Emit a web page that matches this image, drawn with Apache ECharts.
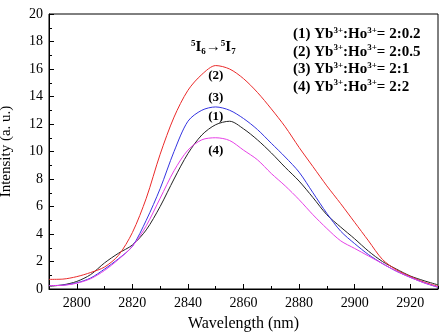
<!DOCTYPE html>
<html>
<head>
<meta charset="utf-8">
<script src="https://cdn.jsdelivr.net/npm/echarts@6/dist/echarts.min.js"></script>
<style>html,body{margin:0;padding:0;background:#fff}#c{width:445px;height:336px}</style>
</head>
<body>
<div id="c"></div>
<script>
// Emission spectra, 5I6 -> 5I7 band
const wavelengths = [2790,2795,2800,2805,2810,2815,2820,2825,2830,2835,2840,2845,2850,2855,2860,2865,2870,2875,2880,2885,2890,2895,2900,2905,2910,2915,2920,2925,2930];
const s1 = [0.2,0.3,0.55,1.05,1.9,2.6,3.2,4.3,6.0,8.0,9.85,11.2,11.95,12.2,11.65,10.85,9.9,8.85,7.85,6.65,5.4,4.5,3.65,2.75,2.0,1.45,0.95,0.6,0.3];
const s2 = [0.7,0.72,0.9,1.2,1.6,2.45,4.1,6.6,9.8,12.5,14.45,15.6,16.25,16.0,15.3,14.3,13.1,11.8,10.3,8.9,7.5,6.2,4.85,3.5,2.15,1.4,0.92,0.5,0.2];
const s3 = [0.25,0.28,0.45,0.8,1.45,2.2,3.1,5.0,7.3,10.0,12.2,13.0,13.24,13.0,12.4,11.6,10.6,9.6,8.5,7.0,5.5,4.2,3.3,2.5,1.85,1.3,0.85,0.45,0.12];
const s4 = [0.25,0.27,0.42,0.75,1.35,2.15,3.1,4.6,6.6,8.6,10.1,10.85,11.0,10.8,10.1,9.4,8.4,7.5,6.5,5.4,4.4,3.5,2.95,2.4,1.85,1.3,0.85,0.45,0.15];
const xMajor = [2800,2820,2840,2860,2880,2900,2920];
const xMinor = [2790,2810,2830,2850,2870,2890,2910,2930];
const ratios = ['2:0.2','2:0.5','2:1','2:2'];
const tags = ['(1)','(2)','(3)','(4)'];

const serif = 'Liberation Serif';
const chart = echarts.init(document.getElementById('c'));

function pairs(ys){ return wavelengths.map((w,i)=>[w, ys[i]]); }
function line(ys, color){
  return {type:'line', data:pairs(ys), smooth:0.3, showSymbol:false, symbol:'none',
          lineStyle:{color:color, width:1}, itemStyle:{color:color}, z:3};
}

const legendLines = ratios.map((r,i)=>({
  type:'text', left:293, top:26+i*17.5,
  style:{
    text:'{b|'+tags[i]+' Yb}{s|3+}{b|:Ho}{s|3+}{b|= '+r+'}',
    rich:{
      b:{fontFamily:serif, fontWeight:'bold', fontSize:15, fill:'#000'},
      s:{fontFamily:serif, fontWeight:'bold', fontSize:9, fill:'#000', verticalAlign:'top', padding:[0,0,8,0]}
    }
  }
}));

const fmt = v => String(v);

chart.setOption({
  animation:false,
  grid:{left:49, right:7, top:14, bottom:47, show:true, borderColor:'#000', borderWidth:1, outerBoundsMode:'none', containLabel:false},
  xAxis:[{
    type:'value', min:2790, max:2930,
    name:'Wavelength (nm)', nameLocation:'middle', nameGap:27,
    nameTextStyle:{fontFamily:serif, fontSize:16, color:'#000'},
    axisLine:{lineStyle:{color:'#000', width:1}},
    axisTick:{inside:true, length:5, customValues:xMajor, lineStyle:{color:'#000'}},
    axisLabel:{customValues:xMajor, formatter:fmt, fontFamily:serif, fontSize:14, color:'#000', margin:7},
    splitLine:{show:false}
  },{
    type:'value', min:2790, max:2930, position:'bottom',
    axisLine:{show:false},
    axisTick:{inside:true, length:3, customValues:xMinor, lineStyle:{color:'#000'}},
    axisLabel:{show:false}, splitLine:{show:false}
  }],
  yAxis:{
    type:'value', min:0, max:20, interval:2,
    name:'Intensity (a. u.)', nameLocation:'middle', nameGap:35,
    nameTextStyle:{fontFamily:serif, fontSize:15, color:'#000'},
    axisLine:{show:true, lineStyle:{color:'#000', width:1}},
    axisTick:{inside:true, length:5, lineStyle:{color:'#000'}},
    minorTick:{show:true, splitNumber:2, length:3, lineStyle:{color:'#000'}},
    axisLabel:{formatter:fmt, fontFamily:serif, fontSize:14, color:'#000', margin:6},
    splitLine:{show:false}
  },
  series:[
    line(s1, '#222222'),
    line(s2, '#ea2a2a'),
    line(s3, '#3434e0'),
    line(s4, '#e640e6')
  ],
  graphic:[{
    type:'text', left:191, top:39,
    style:{
      text:'{s|5}{b|I}{u|6}{a|→}{s|5}{b|I}{u|7}',
      rich:{
        b:{fontFamily:serif, fontWeight:'bold', fontSize:15, fill:'#000'},
        a:{fontFamily:serif, fontSize:15, fill:'#000'},
        s:{fontFamily:serif, fontWeight:'bold', fontSize:9, fill:'#000', verticalAlign:'top', padding:[0,0,8,0]},
        u:{fontFamily:serif, fontWeight:'bold', fontSize:9, fill:'#000', verticalAlign:'bottom', padding:[7,0,0,0]}
      }
    }
  }].concat(legendLines)
});

// curve numbers, anchored to each curve's value at 2850 nm
const peakIdx = wavelengths.indexOf(2850);
const tagSpec = [[s1, -8], [s2, 10], [s3, -9], [s4, 13]];
const tagTexts = tagSpec.map(([ys, dy], i) => {
  const p = chart.convertToPixel({gridIndex:0}, [2850, ys[peakIdx]]);
  return {type:'text', x:p[0], y:p[1] + dy, z:10,
          style:{text:tags[i], fontFamily:serif, fontWeight:'bold', fontSize:13, fill:'#000',
                 align:'center', verticalAlign:'middle'}};
});
chart.setOption({graphic: chart.getOption().graphic[0].elements.concat(tagTexts)}, {replaceMerge:['graphic']});
</script>
</body>
</html>
